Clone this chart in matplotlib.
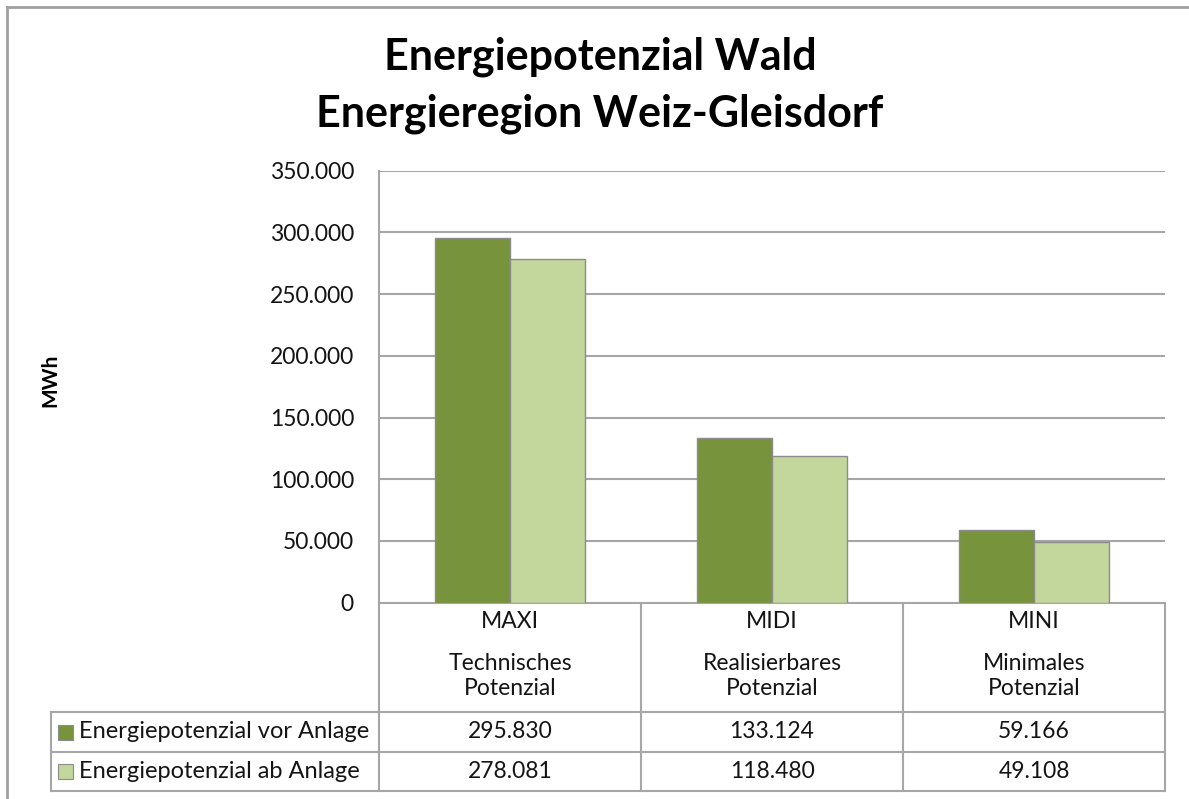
import matplotlib
matplotlib.use("Agg")
import matplotlib.pyplot as plt
from matplotlib.lines import Line2D
from matplotlib.patches import Rectangle
import numpy as np

# ---- data ----
categories = ["MAXI", "MIDI", "MINI"]
subtitles = ["Technisches\nPotenzial", "Realisierbares\nPotenzial", "Minimales\nPotenzial"]
series_names = ["Energiepotenzial vor Anlage", "Energiepotenzial ab Anlage"]
vor_anlage = [295830, 133124, 59166]
ab_anlage = [278081, 118480, 49108]
yticks = [0, 50000, 100000, 150000, 200000, 250000, 300000, 350000]
title = "Energiepotenzial Wald\nEnergieregion Weiz-Gleisdorf"
ylabel = "MWh"

colors = ["#77933C", "#C3D69B"]
edge = "#8C8C8C"
grid = "#A6A6A6"
FONT = "Lato"
TXT = "#141414"

def de(v):
    return f"{v:,.0f}".replace(",", ".")

W, H = 1189, 799
fig = plt.figure(figsize=(W / 100, H / 100), dpi=100)
plt.rcParams["font.family"] = [FONT, "DejaVu Sans"]

# plot area in pixels
px_l, px_r, px_t, px_b = 379, 1165, 170.7, 602.7
ax = fig.add_axes([px_l / W, 1 - px_b / H, (px_r - px_l) / W, (px_b - px_t) / H])

x = np.arange(len(categories))
bw = 0.286
series = [vor_anlage, ab_anlage]
for i, vals in enumerate(series):
    ax.bar(x + (i - 0.5) * bw, vals, width=bw, color=colors[i], edgecolor=edge,
           linewidth=1.0, zorder=3)

ax.set_xlim(-0.5, len(categories) - 0.5)
ax.set_ylim(0, 350000)
ax.set_yticks(yticks)
ax.set_yticklabels([de(v) for v in yticks], fontsize=16.5, color=TXT)
ax.tick_params(axis="y", length=0, pad=18)
ax.set_xticks([])
for yv in yticks[1:]:
    ax.axhline(yv, color=grid, linewidth=1.5, zorder=1)
for s in ["top", "right"]:
    ax.spines[s].set_visible(False)
ax.spines["left"].set_color(grid)
ax.spines["left"].set_linewidth(1.5)
ax.spines["bottom"].set_color(grid)
ax.spines["bottom"].set_linewidth(1.5)

# title and y label
fig.text(600 / W, 1 - 85 / H, title, ha="center", va="center", fontsize=31,
         fontweight="bold", linespacing=1.5, color="#000000")
fig.text(50 / W, 1 - 380 / H, ylabel, ha="center", va="center", rotation=90,
         fontsize=15, fontweight="bold", color="#000000")

# overlay for data table (pixel coordinates)
tax = fig.add_axes([0, 0, 1, 1])
tax.set_xlim(0, W)
tax.set_ylim(H, 0)
tax.axis("off")

def line(x0, y0, x1, y1, c=grid, lw=1.5):
    tax.add_line(Line2D([x0, x1], [y0, y1], color=c, linewidth=lw))

# outer chart frame
line(7, 7, W, 7, c="#A0A0A0", lw=2)
line(7, 7, 7, H, c="#A0A0A0", lw=2)

cw = (px_r - px_l) / len(categories)
row_top, row1, row2, row3 = px_b, 712, 752, 791
leg_l = 51
# table lines
line(px_l, row_top, px_l, row3)
line(px_r, row_top, px_r, row3)
for k in range(1, len(categories)):
    line(px_l + k * cw, row_top, px_l + k * cw, row3)
line(leg_l, row1, px_r, row1)
line(leg_l, row2, px_r, row2)
line(leg_l, row3, px_r, row3)
line(leg_l, row1, leg_l, row3)

FS = 16.5
for k, (c, sub) in enumerate(zip(categories, subtitles)):
    cx = px_l + (k + 0.5) * cw
    tax.text(cx, 621, c, ha="center", va="center", fontsize=FS, color=TXT)
    tax.text(cx, 676, sub, ha="center", va="center", fontsize=FS, color=TXT,
             linespacing=1.2)

for r, (name, vals) in enumerate(zip(series_names, series)):
    yc = (row1 + row2) / 2 if r == 0 else (row2 + row3) / 2
    tax.add_patch(Rectangle((58, yc - 7.5), 15, 15, facecolor=colors[r],
                            edgecolor=edge, linewidth=0.8))
    tax.text(79, yc, name, ha="left", va="center", fontsize=17, color=TXT)
    for k, v in enumerate(vals):
        cx = px_l + (k + 0.5) * cw
        tax.text(cx, yc, de(v), ha="center", va="center", fontsize=FS, color=TXT)

fig.savefig("out.png", dpi=100, facecolor="white")
